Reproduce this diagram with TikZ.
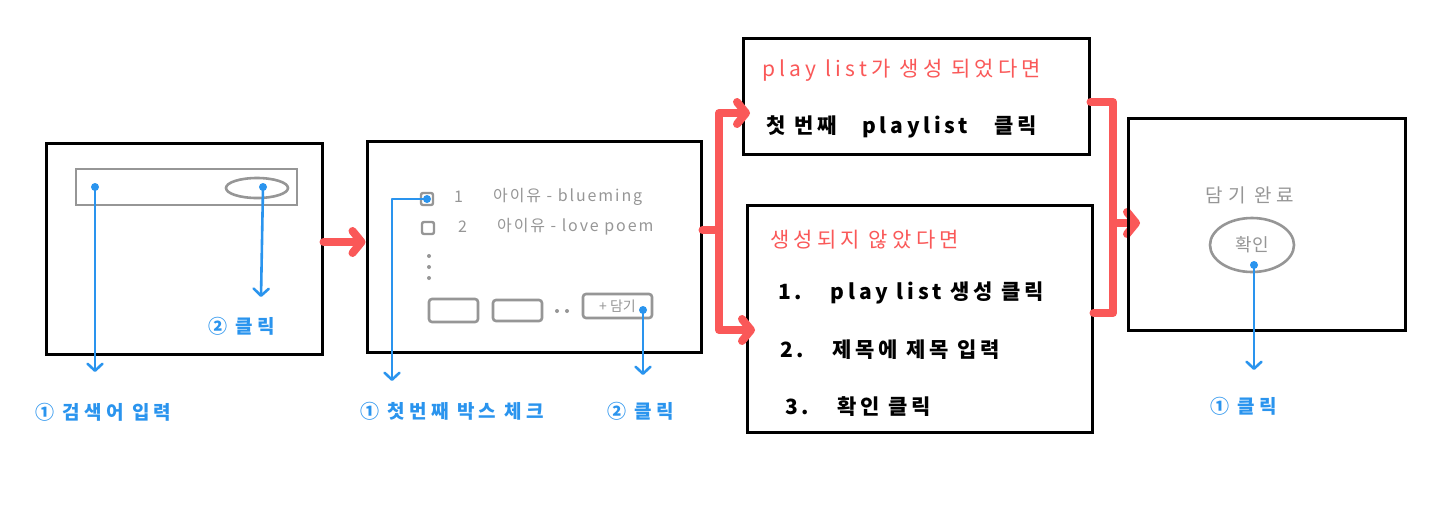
\documentclass[tikz,border=0pt]{standalone}
\usepackage{fontspec}
\setmainfont{Noto Sans CJK KR}
\usetikzlibrary{arrows.meta,shapes.geometric}
\definecolor{hblue}{RGB}{42,148,238}
\definecolor{hred}{RGB}{250,88,88}
\definecolor{hgray}{RGB}{150,150,150}
\begin{document}
\begin{tikzpicture}[x=1pt,y=-1pt,
  screen/.style={draw=black, line width=3pt, inner sep=0pt},
  graybox/.style={draw=hgray, line width=2.6pt, inner sep=0pt},
  grayoval/.style={ellipse, draw=hgray, line width=2.6pt, inner sep=0pt},
  gbtn/.style={draw=hgray, line width=2.6pt, rounded corners=3pt, inner sep=0pt},
  check/.style={draw=hgray, line width=2.4pt, rounded corners=2pt, minimum size=12pt, inner sep=0pt},
  gdot/.style={circle, fill=hgray, inner sep=0pt, minimum size=4pt},
  dot/.style={circle, fill=hblue, inner sep=0pt, minimum size=8pt},
  blueflow/.style={draw=hblue, line width=2.6pt, line cap=round, line join=round, -{Straight Barb[length=7pt,width=15pt,round]}},
  redline/.style={draw=hred, line width=8pt, line cap=round, line join=round},
  redflow/.style={redline, -{Straight Barb[length=9pt,width=22pt,round]}},
  lbl/.style={text=hblue, anchor=west, inner sep=0pt, font=\fontsize{19}{22}\selectfont\bfseries\addfontfeature{LetterSpace=22}},
  graytxt/.style={text=hgray, anchor=west, inner sep=0pt, font=\fontsize{16}{18}\selectfont\addfontfeature{LetterSpace=12}},
  redtxt/.style={text=hred, anchor=west, inner sep=0pt, font=\fontsize{21}{24}\selectfont\addfontfeature{LetterSpace=20}},
  blktxt/.style={text=black, anchor=west, inner sep=0pt, font=\fontsize{21}{24}\selectfont\bfseries\addfontfeature{LetterSpace=18}}
]
\useasboundingbox (0,0) rectangle (1440,507);
\fill[white] (0,0) rectangle (1440,507);

% screen 1
\node[screen, minimum width=276pt, minimum height=211pt] (s1) at (184,248.5) {};
\node[graybox, minimum width=221pt, minimum height=36pt] (search) at (186.5,187) {};
\node[grayoval, minimum width=62pt, minimum height=20pt] (sbtn) at (257,188) {};
\node[dot] (d1) at (95,187) {};
\node[dot] (d2) at (263,187) {};
\coordinate (e1) at (95,372);
\coordinate (e2) at (261,297);
\draw[blueflow] (d1.center) -- (e1);
\draw[blueflow] (d2.center) -- (e2);
\node[lbl] (l1) at (35,412) {① 검색어 입력};
\node[lbl] (l2) at (208,326) {② 클릭};

% screen 2
\node[screen, minimum width=334pt, minimum height=211pt] (s2) at (534,246.5) {};
\node[check] (c1) at (427,199) {};
\node[check] (c2) at (428,228) {};
\node[graytxt] (n1) at (454,197) {1};
\node[graytxt] (t1) at (493,197) {아이유 - blueming};
\node[graytxt] (n2) at (458,227) {2};
\node[graytxt] (t2) at (497,227) {아이유 - love poem};
\node[gdot] (v1) at (429,256) {};
\node[gdot] (v2) at (429,267) {};
\node[gdot] (v3) at (429,278) {};
\node[gbtn, minimum width=49pt, minimum height=23pt] (bt1) at (453.5,310.5) {};
\node[gbtn, minimum width=49pt, minimum height=21pt] (bt2) at (517.5,310.5) {};
\node[gdot] (h1) at (557,311) {};
\node[gdot] (h2) at (567,311) {};
\node[gbtn, minimum width=69pt, minimum height=24pt, text=hgray, font=\fontsize{14}{16}\selectfont] (add) at (617.5,306) {+ 담기};
\node[dot] (d3) at (427,199) {};
\coordinate (k3) at (392,199);
\coordinate (e3) at (392,381);
\draw[blueflow] (d3.center) -- (k3) -- (e3);
\node[dot] (d4) at (643,310) {};
\coordinate (e4) at (643,375);
\draw[blueflow] (d4.center) -- (e4);
\node[lbl] (l3) at (360,411) {① 첫번째 박스 체크};
\node[lbl] (l4) at (607,411) {② 클릭};

\draw[redflow] ([yshift=6.5pt]s1.east) -- ([yshift=4.5pt]s2.west);

% screens 3 and 4
\node[screen, minimum width=346pt, minimum height=116pt] (s3) at (916,96) {};
\node[redtxt] (r3t) at (762,70) {play list가 생성 되었다면};
\node[blktxt] (k3t) at (766,127) {첫 번째 ~ playlist ~ 클릭};
\node[screen, minimum width=345pt, minimum height=227pt] (s4) at (919.5,318.5) {};
\node[redtxt] (r4t) at (770,240) {생성되지 않았다면};
\node[blktxt] (k41) at (778,293) {1.~~ play list 생성 클릭};
\node[blktxt] (k42) at (780,350) {2.~~ 제목에 제목 입력};
\node[blktxt] (k43) at (785,407) {3.~~ 확인 클릭};

\coordinate (sp) at (719,230);
\coordinate (up) at (719,113);
\coordinate (in3) at (750,113);
\coordinate (dn) at (719,330);
\coordinate (in4) at (755,330);
\draw[redline] ([yshift=16.5pt]s2.east) -- (sp);
\draw[redflow] (sp) -- (up) -- (in3);
\draw[redflow] (sp) -- (dn) -- (in4);

\coordinate (m3) at (1113,102);
\coordinate (m4) at (1113,313);
\coordinate (mj) at (1113,223);
\coordinate (in5) at (1140,223);
\draw[redline] ([yshift=-6pt]s3.east) -- (m3) -- (m4) -- ([yshift=5.5pt]s4.east);
\draw[redflow] (mj) -- (in5);

% screen 5
\node[screen, minimum width=277pt, minimum height=212pt] (s5) at (1266.5,224) {};
\node[text=hgray, inner sep=0pt, font=\fontsize{19}{22}\selectfont\addfontfeature{LetterSpace=25}] (done) at (1250,195) {담기 완료};
\node[grayoval, minimum width=84pt, minimum height=54pt, text=hgray, font=\fontsize{18}{20}\selectfont] (ok) at (1252,245) {확인};
\node[dot] (d5) at (1254,265) {};
\coordinate (e5) at (1254,370);
\draw[blueflow] (d5.center) -- (e5);
\node[lbl] (l5) at (1210,406) {① 클릭};
\end{tikzpicture}
\end{document}
